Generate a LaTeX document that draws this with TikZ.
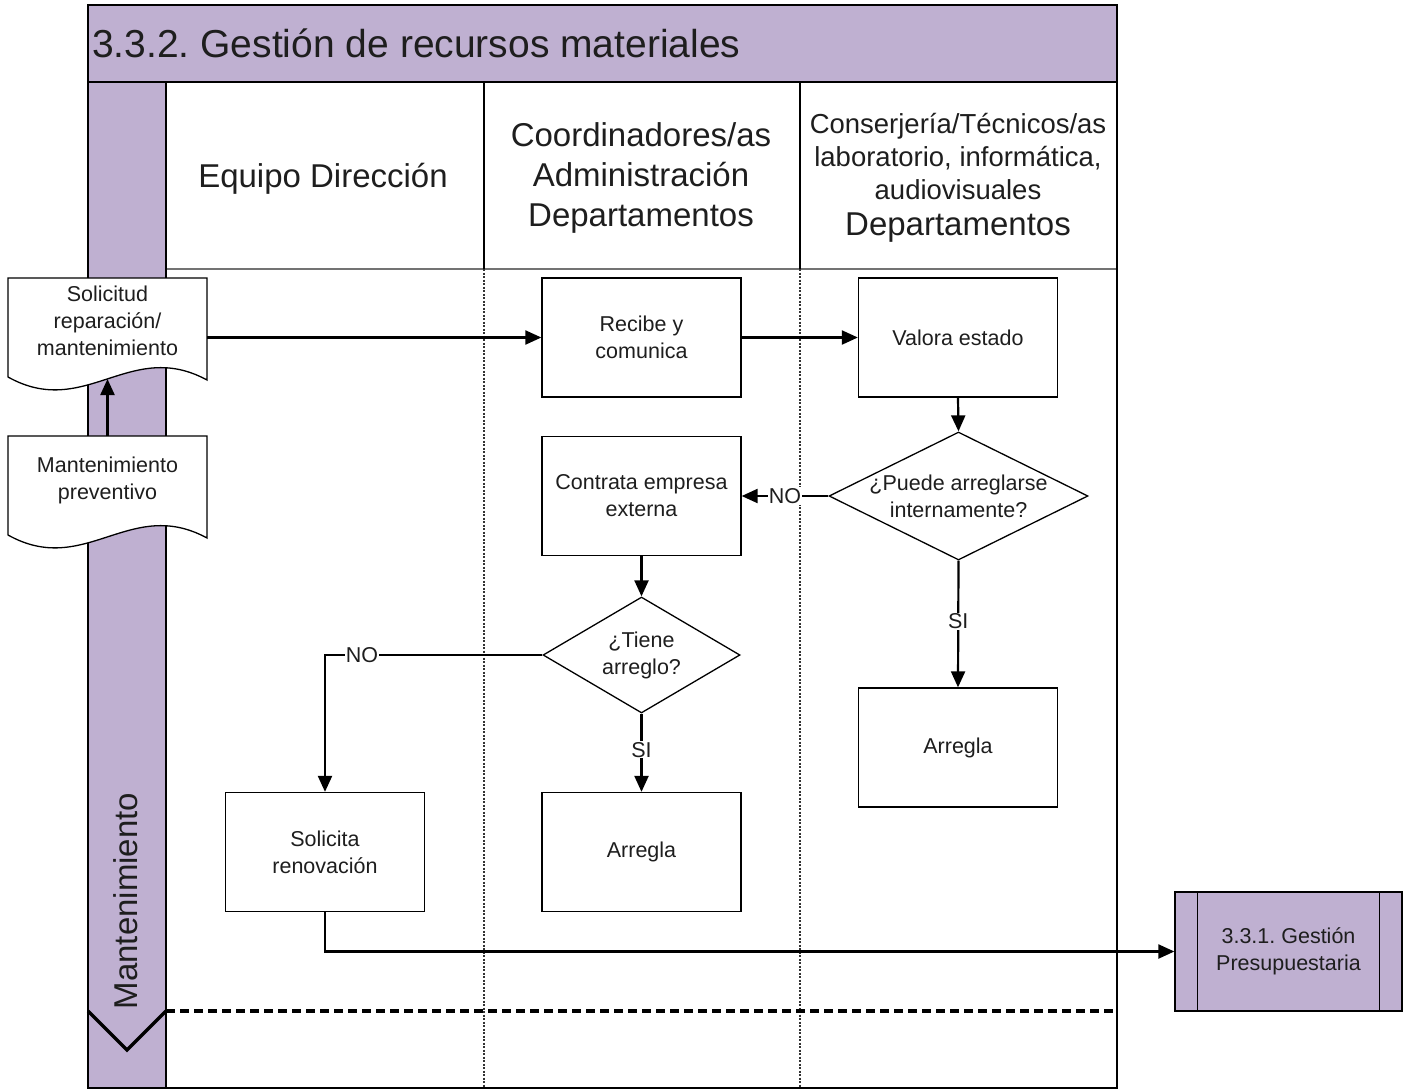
\documentclass[tikz,border=0pt]{standalone}
\usepackage{fontspec}
\setmainfont{Liberation Sans}
\usetikzlibrary{arrows.meta,shapes.geometric,calc}
\definecolor{lav}{RGB}{191,176,209}
\definecolor{txt}{RGB}{30,30,30}
\frenchspacing
\begin{document}
\begin{tikzpicture}[x=1pt,y=-1pt,
  proc/.style={draw, line width=1.3pt, fill=white, minimum width=199pt, minimum height=119pt, inner sep=0pt, align=center, text=txt, font=\fontsize{21.5}{27}\selectfont},
  dec/.style={draw, line width=1.3pt, fill=white, shape=diamond, inner sep=0pt},
  txtst/.style={align=center, inner sep=0pt, text=txt, font=\fontsize{21.5}{27}\selectfont},
  docline/.style={draw, line width=1.3pt, fill=white},
  conn/.style={line width=2.2pt, -{Triangle[length=16pt,width=14pt]}},
  lbl/.style={fill=white, inner sep=1pt, text=txt, font=\fontsize{21.5}{27}\selectfont},
  hdr/.style={align=center, inner sep=0pt, text=txt, font=\fontsize{33}{40}\selectfont},
  lane/.style={line width=1.5pt, dash pattern=on 2pt off 1.5pt, black!80}
]
\path[use as bounding box] (0,0) rectangle (1409,1090);
% swimlane frame
\fill[lav] (88,5) rectangle (1117,82);
\fill[lav] (88,82) rectangle (166,1088);
\draw[black!55, line width=2pt] (166,269) -- (1117,269);
\draw[line width=1.5pt] (484,82) -- (484,269) (800,82) -- (800,269);
\draw[lane] (484,269) -- (484,1088) (800,269) -- (800,1088);
\draw[line width=1.5pt] (166,82) -- (166,1088);
\draw[line width=2.5pt] (88,5) rectangle (1117,1088);
\draw[line width=2.5pt] (88,82) -- (1117,82);
\draw[line width=3.5pt, dash pattern=on 9pt off 5pt] (166,1011) -- (1117,1011);
\draw[line width=3.5pt] (88,1011) -- (127,1050) -- (166,1011);
% titles
\node[anchor=base west, inner sep=0pt, text=txt, font=\fontsize{39}{44}\selectfont] (title) at (92,57) {3.3.2. Gestión de recursos materiales};
\node[hdr, anchor=base] (h1) at (323,187) {Equipo Dirección};
\node[hdr] (h2) at (641,178) {Coordinadores/as\\Administración\\Departamentos};
\node[hdr, font=\fontsize{27.5}{33}\selectfont] (h3a) at (958,157) {Conserjería/Técnicos/as\\laboratorio, informática,\\audiovisuales};
\node[hdr] (h3b) at (958,228) {Departamentos};
\node[hdr, rotate=90] (mant) at (126,901) {Mantenimiento};
% documents
\path[docline] (8,278) -- (207,278) -- (207,380) .. controls (130,338) and (85,420) .. (8,377) -- cycle;
\node[txtst] (sol) at (107.5,321) {Solicitud\\reparación/\\mantenimiento};
\path[docline] (8,436) -- (207,436) -- (207,538) .. controls (130,496) and (85,578) .. (8,535) -- cycle;
\node[txtst] (pre) at (107.5,480) {Mantenimiento\\preventivo};
\coordinate (solR) at (207,337.5);
\coordinate (solB) at (107.5,379);
\coordinate (preT) at (107.5,436);
% processes
\node[proc] (rec) at (641.5,337.5) {Recibe y\\comunica};
\node[proc] (val) at (958,337.5) {Valora estado};
\node[proc] (con) at (641.5,496) {Contrata empresa\\externa};
\node[proc] (arr2) at (641.5,852) {Arregla};
\node[proc] (sr) at (325,852) {Solicita\\renovación};
\node[proc] (arr1) at (958,747.5) {Arregla};
\node[dec, minimum width=259pt, minimum height=128pt] (d1) at (958.5,496) {};
\node[txtst] (d1t) at (d1.center) {¿Puede arreglarse\\internamente?};
\node[dec, minimum width=197pt, minimum height=116pt] (d2) at (641.5,655) {};
\node[txtst] (d2t) at (d2.center) {¿Tiene\\arreglo?};
\node[proc, fill=lav, minimum width=227pt] (g331) at (1288.5,951.5) {3.3.1. Gestión\\Presupuestaria};
\draw[line width=1.3pt] ($(g331.north west)+(23,0)$) -- ($(g331.south west)+(23,0)$);
\draw[line width=1.3pt] ($(g331.north east)+(-23,0)$) -- ($(g331.south east)+(-23,0)$);
% connectors
\draw[conn] (preT) -- (solB);
\draw[conn] (solR) -- (rec.west);
\draw[conn] (rec.east) -- (val.west);
\draw[conn] (val.south) -- (d1.north);
\draw[conn] (d1.west) -- node[lbl, pos=0.5]{NO} (con.east);
\draw[conn] (con.south) -- (d2.north);
\draw[conn] (d2.west) -| node[lbl, pos=0.415]{NO} (sr.north);
\draw[conn] (d2.south) -- node[lbl, pos=0.46]{SI} (arr2.north);
\draw[conn] (d1.south) -- node[lbl, pos=0.48]{SI} (arr1.north);
\draw[conn] (sr.south) |- (g331.west);
\end{tikzpicture}
\end{document}
